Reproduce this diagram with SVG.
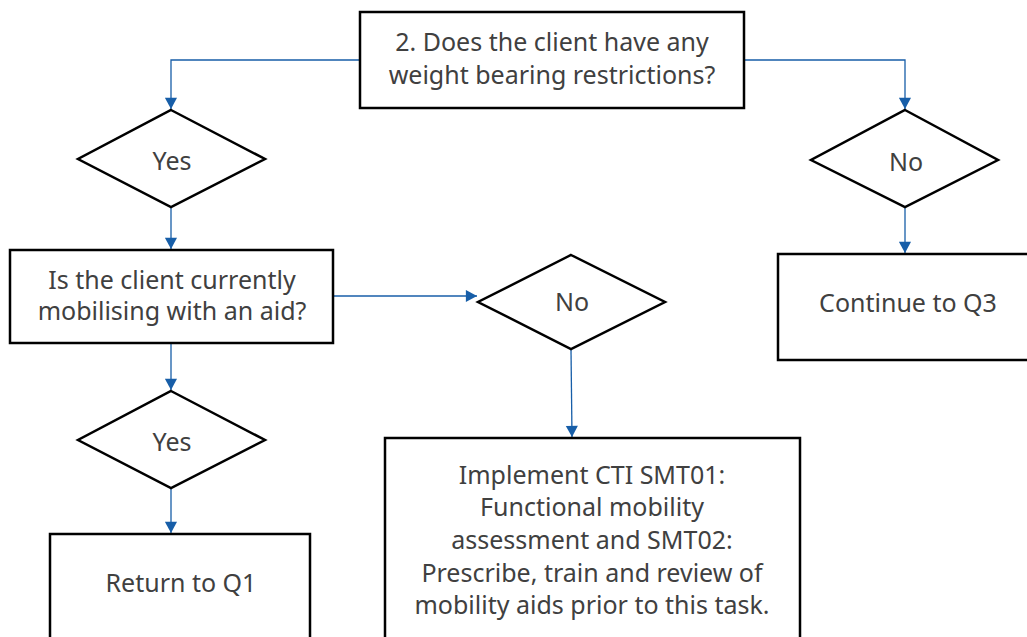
<svg xmlns="http://www.w3.org/2000/svg" width="1027" height="637" viewBox="0 0 1027 637">
<defs>
<marker id="ah" viewBox="0 0 12 14" refX="12" refY="7" markerWidth="14" markerHeight="13" markerUnits="userSpaceOnUse" orient="auto">
<path d="M0,0.5 L12,7 L0,13.5 Z" fill="#175ea8"/>
</marker>
<style>
.box{fill:#fff;stroke:#000;stroke-width:2.5}
.t{font-family:"Noto Sans","Open Sans",sans-serif;font-size:25px;fill:#404040;text-anchor:middle}
.c{fill:none;stroke:#175ea8;stroke-width:1.3;marker-end:url(#ah)}
</style>
</defs>
<rect width="1027" height="637" fill="#fff"/>
<g id="connectors">
<path class="c" d="M360,60 H171 V109"/>
<path class="c" d="M744,60 H905 V109"/>
<path class="c" d="M171,207 V249"/>
<path class="c" d="M905,207 V253"/>
<path class="c" d="M333,296 H477"/>
<path class="c" d="M571,349 L572,437"/>
<path class="c" d="M171,343 V390"/>
<path class="c" d="M171,488 V533"/>
</g>
<g id="q2">
<rect class="box" x="360" y="12" width="384" height="96"/>
<text class="t" x="552" y="51">2. Does the client have any</text>
<text class="t" x="552" y="84">weight bearing restrictions?</text>
</g>
<g id="yes1">
<polygon class="box" points="171,110 265,159 171,207 78,159"/>
<text class="t" x="172" y="170">Yes</text>
</g>
<g id="no1">
<polygon class="box" points="905,110 998,160 905,207 811,160"/>
<text class="t" x="906" y="171">No</text>
</g>
<g id="aid">
<rect class="box" x="10" y="250" width="323" height="93"/>
<text class="t" x="172" y="289">Is the client currently</text>
<text class="t" x="172" y="320">mobilising with an aid?</text>
</g>
<g id="no2">
<polygon class="box" points="571,255 665,302 571,349 478,302"/>
<text class="t" x="572" y="311">No</text>
</g>
<g id="continue">
<rect class="box" x="778" y="254" width="260" height="106"/>
<text class="t" x="908" y="312">Continue to Q3</text>
</g>
<g id="yes2">
<polygon class="box" points="171,391 265,440 171,488 78,440"/>
<text class="t" x="172" y="451">Yes</text>
</g>
<g id="return">
<rect class="box" x="50" y="534" width="260" height="110"/>
<text class="t" x="181" y="592">Return to Q1</text>
</g>
<g id="implement">
<rect class="box" x="385" y="438" width="415" height="210"/>
<text class="t" x="592" y="484">Implement CTI SMT01:</text>
<text class="t" x="592" y="516">Functional mobility</text>
<text class="t" x="592" y="549">assessment and SMT02:</text>
<text class="t" x="592" y="582">Prescribe, train and review of</text>
<text class="t" x="592" y="614">mobility aids prior to this task.</text>
</g>
</svg>
